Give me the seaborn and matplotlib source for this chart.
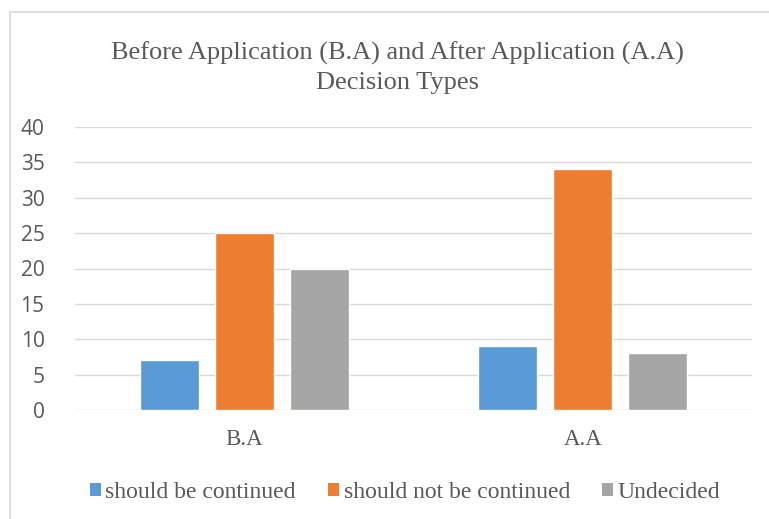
import matplotlib
matplotlib.use("Agg")
import matplotlib.pyplot as plt
import seaborn as sns
import pandas as pd
from matplotlib.patches import Patch
from matplotlib.lines import Line2D

categories = ["B.A", "A.A"]
series = ["should be continued", "should not be continued", "Undecided"]
should_be_continued = [7, 9]
should_not_be_continued = [25, 34]
undecided = [20, 8]
colors = ["#5B9BD5", "#ED7D31", "#A5A5A5"]
yticks = [0, 5, 10, 15, 20, 25, 30, 35, 40]

rows = []
for name, vals in zip(series, [should_be_continued, should_not_be_continued, undecided]):
    for c, v in zip(categories, vals):
        rows.append({"cat": c, "series": name, "value": v})
df = pd.DataFrame(rows)

sns.set_theme(style="white")
fig = plt.figure(figsize=(7.69, 5.19), dpi=100)
ax = fig.add_axes([75/769, 1-410/519, (752-75)/769, (410-127)/519])

sns.barplot(data=df, x="cat", y="value", hue="series", order=categories,
            hue_order=series, palette=colors, width=0.665, gap=0.21,
            saturation=1, ax=ax, legend=False)

ax.set_ylim(0, 40)
ax.set_xlim(-0.5, 1.5)
ax.set_yticks(yticks)
ax.yaxis.grid(True, color="#D9D9D9", linewidth=1)
ax.set_axisbelow(True)
for s in ax.spines.values():
    s.set_visible(False)
ax.set_xlabel("")
ax.set_ylabel("")
ax.tick_params(axis="both", length=0)
ax.tick_params(axis="y", pad=22, labelsize=15, labelcolor="#595959")
for lab in ax.get_yticklabels():
    lab.set_fontfamily("Open Sans")
ax.tick_params(axis="x", pad=14, labelsize=16.5, labelcolor="#595959")
for lab in ax.get_xticklabels():
    lab.set_fontfamily("Liberation Serif")

fig.text(397/769, 1-53/519, "Before Application (B.A) and After Application (A.A)",
         ha="center", va="center", fontsize=19, color="#595959", family="Liberation Serif")
fig.text(397/769, 1-83/519, "Decision Types",
         ha="center", va="center", fontsize=19, color="#595959", family="Liberation Serif")

# chart frame (left and top edges visible)
fig.add_artist(Line2D([10/769, 10/769], [0, 1-12/519], color="#D9D9D9", lw=1.2, transform=fig.transFigure))
fig.add_artist(Line2D([10/769, 1], [1-12/519, 1-12/519], color="#D9D9D9", lw=1.2, transform=fig.transFigure))

handles = [Patch(facecolor=c, edgecolor="none") for c in colors]
leg = fig.legend(handles, series, loc="center", bbox_to_anchor=(405/769, 1-492/519), ncol=3,
                 frameon=False, handlelength=0.47, handleheight=0.47, handletextpad=0.2,
                 columnspacing=1.35, borderaxespad=0, borderpad=0,
                 prop={"family": "Liberation Serif", "size": 17})
for t in leg.get_texts():
    t.set_color("#595959")

fig.savefig("out.png", dpi=100)
